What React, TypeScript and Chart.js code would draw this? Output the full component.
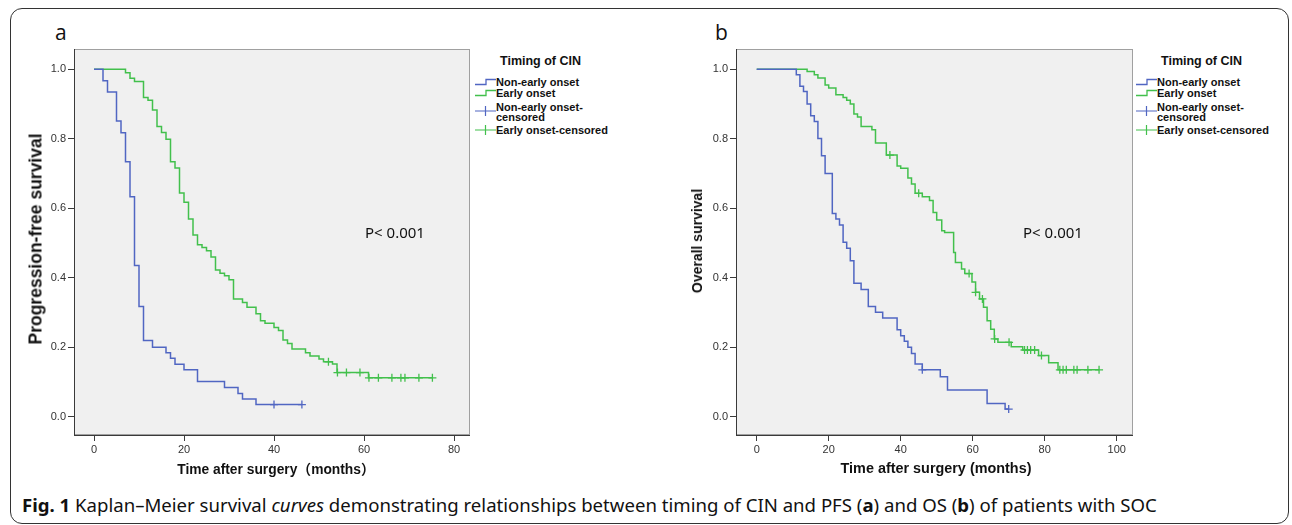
import React, { useEffect, useRef } from "react";
import { Chart, registerables } from "chart.js";

Chart.register(...registerables);

// ---------- data ----------
const yTicks = [0, 0.2, 0.4, 0.6, 0.8, 1.0];
const aXTicks = [0, 20, 40, 60, 80];
const bXTicks = [0, 20, 40, 60, 80, 100];

// Panel a: progression-free survival
const aNonTimes = [2, 3, 5, 6, 7, 8, 9, 10, 11, 13, 16, 17, 18, 20, 23, 29, 32, 33, 36];
const aNonSurv = [0.967, 0.935, 0.851, 0.817, 0.734, 0.633, 0.435, 0.317, 0.219, 0.2, 0.184, 0.168, 0.151, 0.135, 0.101, 0.084, 0.067, 0.051, 0.035];
const aNonCensor = [40, 46.2];
const aNonEnd = 46.2;

const aEarTimes = [7, 8, 9, 11, 12, 13, 14, 15, 16, 17, 18, 19, 20, 21, 22, 23, 24, 25, 26, 27, 28, 29, 30, 31, 33, 34, 36, 37, 38, 40, 41, 42, 43, 44, 47, 48, 50, 51, 53, 54, 61];
const aEarSurv = [0.99, 0.974, 0.965, 0.919, 0.911, 0.883, 0.835, 0.818, 0.799, 0.734, 0.716, 0.644, 0.617, 0.569, 0.523, 0.495, 0.487, 0.478, 0.46, 0.422, 0.413, 0.406, 0.394, 0.339, 0.329, 0.315, 0.296, 0.276, 0.269, 0.257, 0.248, 0.221, 0.211, 0.195, 0.184, 0.175, 0.166, 0.158, 0.152, 0.127, 0.112];
const aEarCensor = [52.1, 54.1, 56.1, 59.1, 61.1, 63.2, 66.2, 68.2, 69.1, 72.2, 75.2];
const aEarEnd = 75.2;

// Panel b: overall survival
const bNonTimes = [11, 12, 13, 14, 15, 16, 17, 18, 19, 21, 22, 23, 24, 25, 26, 27, 29, 31, 33, 35, 39, 40, 41, 42, 43, 44, 46, 51, 53, 64, 69];
const bNonSurv = [0.984, 0.951, 0.936, 0.9, 0.866, 0.85, 0.801, 0.751, 0.7, 0.585, 0.569, 0.552, 0.502, 0.485, 0.449, 0.384, 0.366, 0.317, 0.301, 0.284, 0.25, 0.233, 0.217, 0.2, 0.182, 0.152, 0.135, 0.115, 0.077, 0.038, 0.022];
const bNonCensor = [46, 70];
const bNonEnd = 70;

const bEarTimes = [14, 16, 17, 19, 20, 22, 24, 25, 26, 27, 28, 29, 32, 33, 36, 39, 40, 42, 43, 44, 46, 48, 49, 50, 51.4, 52.2, 54.7, 55.2, 56.9, 57.8, 59.8, 60.8, 61.9, 63, 64, 65, 66, 67, 70.7, 73.9, 78.3, 81.1, 83.7];
const bEarSurv = [0.994, 0.984, 0.975, 0.955, 0.946, 0.927, 0.919, 0.911, 0.9, 0.871, 0.863, 0.835, 0.826, 0.788, 0.753, 0.722, 0.715, 0.687, 0.67, 0.643, 0.633, 0.622, 0.588, 0.566, 0.535, 0.53, 0.473, 0.444, 0.425, 0.412, 0.388, 0.358, 0.339, 0.315, 0.276, 0.252, 0.224, 0.214, 0.201, 0.192, 0.176, 0.155, 0.135];
const bEarCensor = [37, 45, 59, 60.8, 62.7, 66.1, 70.1, 74.4, 75.2, 76.1, 77.2, 79.1, 84.2, 85.1, 86, 88.1, 89, 92, 95.1];
const bEarEnd = 95.1;

const legendTitle = "Timing of CIN";
const legendLabels = ["Non-early onset", "Early onset", "Non-early onset-\ncensored", "Early onset-censored"];

const BLUE = "#5066c2";
const GREEN = "#42c04c";

// ---------- helpers ----------
function stepPoints(times: number[], surv: number[], end: number) {
  const pts: { x: number; y: number }[] = [{ x: 0, y: 1 }];
  let prev = 1;
  times.forEach((t, i) => {
    pts.push({ x: t, y: prev });
    pts.push({ x: t, y: surv[i] });
    prev = surv[i];
  });
  pts.push({ x: end, y: prev });
  return pts;
}
function levelAt(times: number[], surv: number[], t: number) {
  let s = 1;
  for (let i = 0; i < times.length; i++) if (times[i] <= t + 1e-9) s = surv[i];
  return s;
}
function censorPoints(times: number[], surv: number[], cens: number[]) {
  return cens.map((t) => ({ x: t, y: levelAt(times, surv, t) }));
}

const bgPlugin = {
  id: "plotBg",
  beforeDraw(chart: any) {
    const { ctx, chartArea: a } = chart;
    ctx.save();
    ctx.fillStyle = "#f0f0f0";
    ctx.fillRect(a.left, a.top, a.right - a.left, a.bottom - a.top);
    ctx.strokeStyle = "#a0a0a0";
    ctx.lineWidth = 1;
    ctx.strokeRect(a.left + 0.5, a.top + 0.5, a.right - a.left - 1, a.bottom - a.top - 1);
    ctx.restore();
  },
};

type Curve = { times: number[]; surv: number[]; cens: number[]; end: number; color: string };

function KMChart(props: {
  left: number; width: number; height: number; padTop: number;
  yAxisW: number; xAxisH: number; xMin: number; xMax: number; xTicks: number[];
  yMin: number; yMax: number; curves: Curve[];
}) {
  const ref = useRef<HTMLCanvasElement | null>(null);
  useEffect(() => {
    const datasets: any[] = [];
    props.curves.forEach((c) => {
      datasets.push({
        data: stepPoints(c.times, c.surv, c.end),
        borderColor: c.color, borderWidth: 1.5, pointRadius: 0, tension: 0, fill: false,
      });
    });
    props.curves.forEach((c) => {
      datasets.push({
        data: censorPoints(c.times, c.surv, c.cens),
        borderColor: c.color, backgroundColor: c.color, showLine: false,
        pointStyle: "cross", pointRadius: 4, borderWidth: 1.3,
      });
    });
    const tickFont = { family: "'Liberation Sans', Arial, sans-serif", size: 11 };
    const chart = new Chart(ref.current as HTMLCanvasElement, {
      type: "line",
      data: { datasets },
      options: {
        animation: false,
        responsive: false,
        devicePixelRatio: 1,
        layout: { padding: { top: props.padTop, left: 0, right: 0, bottom: 0 }, autoPadding: false } as any,
        plugins: { legend: { display: false }, tooltip: { enabled: false } },
        scales: {
          x: {
            type: "linear", min: props.xMin, max: props.xMax,
            afterBuildTicks: (s: any) => { s.ticks = props.xTicks.map((v) => ({ value: v })); },
            afterFit: (s: any) => { s.height = props.xAxisH; },
            grid: { drawOnChartArea: false, drawTicks: true, tickLength: 6, color: "#3a3a3a" },
            border: { color: "#3a3a3a", width: 1 },
            ticks: { color: "#333", font: tickFont, padding: 2, maxRotation: 0, callback: (v: any) => String(v) },
          },
          y: {
            type: "linear", min: props.yMin, max: props.yMax,
            afterBuildTicks: (s: any) => { s.ticks = yTicks.map((v) => ({ value: v })); },
            afterFit: (s: any) => { s.width = props.yAxisW; },
            grid: { drawOnChartArea: false, drawTicks: true, tickLength: 6, color: "#3a3a3a" },
            border: { color: "#3a3a3a", width: 1 },
            ticks: { color: "#333", font: tickFont, padding: 2, callback: (v: any) => Number(v).toFixed(1) },
          },
        },
      } as any,
      plugins: [bgPlugin],
    });
    return () => chart.destroy();
  }, []);
  return (
    <canvas
      ref={ref}
      width={props.width}
      height={props.height}
      style={{ position: "absolute", left: props.left, top: 0, width: props.width, height: props.height }}
    />
  );
}

function StepIcon({ color }: { color: string }) {
  return (
    <svg width="22" height="8" style={{ position: "absolute", left: 0, top: 0 }}>
      <path d="M0 6.5 H11 V1.5 H21" stroke={color} strokeWidth="1.3" fill="none" />
    </svg>
  );
}
function CensorIcon({ color }: { color: string }) {
  return (
    <svg width="22" height="12" style={{ position: "absolute", left: 0, top: 0 }}>
      <path d="M0 6 H21 M10.5 1 V11" stroke={color} strokeWidth="1.2" fill="none" />
    </svg>
  );
}

function Legend({ left }: { left: number }) {
  const txt: React.CSSProperties = {
    position: "absolute", fontFamily: "'Liberation Sans', Arial, sans-serif", fontWeight: "bold",
    fontSize: 11, lineHeight: "10px", color: "#111", whiteSpace: "pre",
  };
  return (
    <div style={{ position: "absolute", left, top: 0 }}>
      <div style={{ ...txt, left: 30, top: 55, fontSize: 12.5, lineHeight: "13px" }}>{legendTitle}</div>
      <div style={{ position: "absolute", left: 5, top: 78 }}><StepIcon color={BLUE} /></div>
      <div style={{ ...txt, left: 26, top: 77 }}>{legendLabels[0]}</div>
      <div style={{ position: "absolute", left: 5, top: 89 }}><StepIcon color={GREEN} /></div>
      <div style={{ ...txt, left: 26, top: 88 }}>{legendLabels[1]}</div>
      <div style={{ position: "absolute", left: 5, top: 105 }}><CensorIcon color={BLUE} /></div>
      <div style={{ ...txt, left: 26, top: 102 }}>{legendLabels[2]}</div>
      <div style={{ position: "absolute", left: 5, top: 124 }}><CensorIcon color={GREEN} /></div>
      <div style={{ ...txt, left: 26, top: 125 }}>{legendLabels[3]}</div>
    </div>
  );
}

const Y_MIN = -(435 - 416.7) / 347.4;
const Y_MAX = 1 + (69.3 - 49) / 347.4;

export default function App() {
  const axisTitle: React.CSSProperties = {
    position: "absolute", fontFamily: "'Liberation Sans', Arial, 'Noto Sans CJK SC', sans-serif",
    fontWeight: "bold", color: "#111", whiteSpace: "nowrap",
  };
  const pText: React.CSSProperties = {
    position: "absolute", fontFamily: "'Noto Sans', sans-serif", fontSize: 15, color: "#111", whiteSpace: "nowrap",
  };
  return (
    <div style={{ position: "absolute", left: 0, top: 0, width: 1292, height: 525, background: "#fff", overflow: "hidden" }}>
      <div style={{ position: "absolute", left: 10, top: 8, width: 1277, height: 514, border: "1.5px solid #333", borderRadius: 12 }} />
      <div style={{ position: "absolute", left: 55, top: 18, fontFamily: "'Open Sans', sans-serif", fontSize: 21, color: "#111" }}>a</div>
      <div style={{ position: "absolute", left: 715, top: 18, fontFamily: "'Open Sans', sans-serif", fontSize: 21, color: "#111" }}>b</div>

      <KMChart
        left={0} width={470} height={480} padTop={49} yAxisW={74} xAxisH={45}
        xMin={(74 - 94) / 4.5} xMax={(470 - 94) / 4.5} xTicks={aXTicks} yMin={Y_MIN} yMax={Y_MAX}
        curves={[
          { times: aNonTimes, surv: aNonSurv, cens: aNonCensor, end: aNonEnd, color: BLUE },
          { times: aEarTimes, surv: aEarSurv, cens: aEarCensor, end: aEarEnd, color: GREEN },
        ]}
      />
      <KMChart
        left={660} width={473} height={480} padTop={49} yAxisW={76} xAxisH={45}
        xMin={(736 - 756.7) / 3.6} xMax={(1133 - 756.7) / 3.6} xTicks={bXTicks} yMin={Y_MIN} yMax={Y_MAX}
        curves={[
          { times: bNonTimes, surv: bNonSurv, cens: bNonCensor, end: bNonEnd, color: BLUE },
          { times: bEarTimes, surv: bEarSurv, cens: bEarCensor, end: bEarEnd, color: GREEN },
        ]}
      />

      <Legend left={470} />
      <Legend left={1131} />

      <div style={{ ...pText, left: 365, top: 222 }}>P&lt; 0.001</div>
      <div style={{ ...pText, left: 1023, top: 222 }}>P&lt; 0.001</div>

      <div style={{ ...axisTitle, fontSize: 13.8, left: 276, top: 468, transform: "translate(-50%,-50%)" }}>Time after surgery（months）</div>
      <div style={{ ...axisTitle, fontSize: 14.4, left: 936, top: 468, transform: "translate(-50%,-50%)" }}>Time after surgery (months)</div>
      <div style={{ ...axisTitle, fontSize: 17.5, left: 36, top: 239, transform: "translate(-50%,-50%) rotate(-90deg)" }}>Progression-free survival</div>
      <div style={{ ...axisTitle, fontSize: 14, left: 697, top: 241, transform: "translate(-50%,-50%) rotate(-90deg)" }}>Overall survival</div>

      <div style={{ position: "absolute", left: 22, top: 492, fontFamily: "'Noto Sans', sans-serif", fontSize: 18.6, color: "#111", whiteSpace: "nowrap" }}>
        <b>Fig. 1</b> Kaplan–Meier survival <i>curves</i> demonstrating relationships between timing of CIN and PFS (<b>a</b>) and OS (<b>b</b>) of patients with SOC
      </div>
    </div>
  );
}
